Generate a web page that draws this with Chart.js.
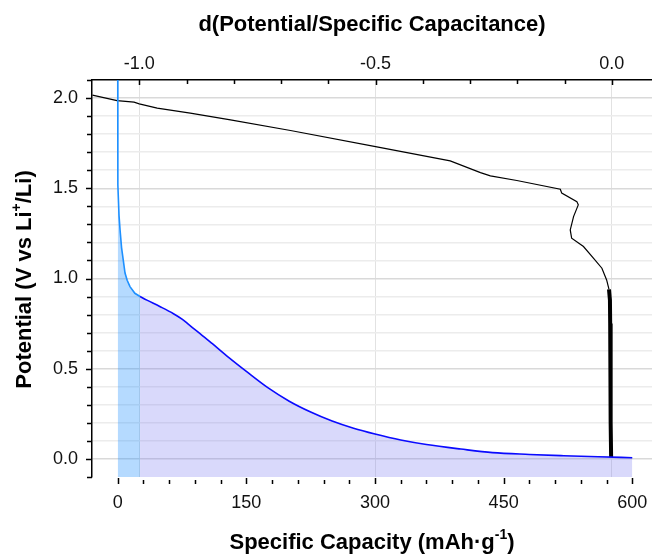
<!DOCTYPE html>
<html>
<head>
<meta charset="utf-8">
<script src="https://cdn.jsdelivr.net/npm/chart.js@4.4.1/dist/chart.umd.min.js"></script>
<style>
  html, body { margin: 0; padding: 0; background: #fff; overflow: hidden; }
  #chart { display: block; }
</style>
</head>
<body>
<canvas id="chart" width="652" height="554"></canvas>
<script>
// Discharge curve, first part (light blue), capacity in mAh/g vs potential
const lightCapacity = [0, 0, 0.3, 0.7, 1.5, 2.7, 4.5, 6.5, 8.5, 11, 14.3, 20, 26];
const lightPotential = [2.3, 1.6, 1.52, 1.45, 1.35, 1.27, 1.17, 1.10, 1.03, 0.99, 0.955, 0.918, 0.90];

// Discharge curve, second part (dark blue)
const darkCapacity = [26, 34, 49, 65, 75, 84, 96, 110, 130, 150, 175, 200, 225, 250, 275, 300, 330, 360, 400, 437, 480, 520, 560, 600];
const darkPotential = [0.90, 0.88, 0.845, 0.805, 0.775, 0.74, 0.695, 0.64, 0.56, 0.485, 0.395, 0.32, 0.26, 0.21, 0.17, 0.138, 0.105, 0.08, 0.055, 0.035, 0.025, 0.018, 0.012, 0.007];

// Derivative curve (top axis) vs potential
const derivValue = [-1.099, -1.047, -1.011, -1.0, -0.962, -0.892, -0.807, -0.68, -0.5, -0.342, -0.278, -0.257, -0.201, -0.109, -0.106, -0.074, -0.071, -0.081, -0.088, -0.085, -0.060, -0.039, -0.021, -0.011, -0.006];
const derivPotential = [2.016, 1.986, 1.977, 1.968, 1.944, 1.916, 1.879, 1.82, 1.731, 1.652, 1.587, 1.569, 1.543, 1.495, 1.473, 1.426, 1.408, 1.343, 1.269, 1.223, 1.177, 1.113, 1.057, 0.992, 0.94];

// Dense (noisy) tail of the derivative curve
const tailValue = [-0.006, -0.004, -0.0035, -0.003, -0.0025, -0.002, -0.0015];
const tailPotential = [0.94, 0.88, 0.75, 0.60, 0.40, 0.20, 0.01];

// Ticks
const capacityTicks = [0, 30, 60, 90, 120, 150, 180, 210, 240, 270, 300, 330, 360, 390, 420, 450, 480, 510, 540, 570, 600];
const capacityLabels = [0, 150, 300, 450, 600];
const derivTicks = [-1.0, -0.9, -0.8, -0.7, -0.6, -0.5, -0.4, -0.3, -0.2, -0.1, 0.0];
const derivLabels = [-1.0, -0.5, 0.0];
const potentialTicks = [-0.1, 0.0, 0.1, 0.2, 0.3, 0.4, 0.5, 0.6, 0.7, 0.8, 0.9, 1.0, 1.1, 1.2, 1.3, 1.4, 1.5, 1.6, 1.7, 1.8, 1.9, 2.0, 2.1];
const potentialLabels = [0.0, 0.5, 1.0, 1.5, 2.0];

const FONT = '"Liberation Sans", Arial, sans-serif';

function pairs(xs, ys) {
    return xs.map((x, i) => ({x: x, y: ys[i]}));
}

function isIn(list, v) {
    return list.some(l => Math.abs(l - v) < 1e-9);
}

function setTicks(values) {
    return function(scale) {
        scale.ticks = values.map(v => ({value: v}));
    };
}

// fixed axis box sizes, no label overflow padding
function fixHeight(h) {
    return function(scale) {
        scale.height = h;
        scale.paddingLeft = 0;
        scale.paddingRight = 0;
    };
}

// tick marks: left outward, top inward, bottom below the plot
const tickMarks = {
    id: 'tickMarks',
    afterDraw(chart) {
        const {ctx, chartArea} = chart;
        const s = chart.scales;
        ctx.save();
        ctx.strokeStyle = '#000';
        ctx.lineWidth = 1.5;
        ctx.beginPath();
        s.y.ticks.forEach(t => {
            const p = Math.round(s.y.getPixelForValue(t.value)) + 0.5;
            const len = isIn(potentialLabels, t.value) ? 6 : 5;
            ctx.moveTo(chartArea.left - len, p);
            ctx.lineTo(chartArea.left, p);
        });
        s.x2.ticks.forEach(t => {
            const p = Math.round(s.x2.getPixelForValue(t.value)) + 0.5;
            const len = isIn(derivLabels, t.value) ? 5 : 4;
            ctx.moveTo(p, chartArea.top);
            ctx.lineTo(p, chartArea.top + len);
        });
        s.x.ticks.forEach(t => {
            const p = Math.round(s.x.getPixelForValue(t.value)) + 0.5;
            const major = isIn(capacityLabels, t.value);
            ctx.moveTo(p, chartArea.bottom + (major ? 1 : 3));
            ctx.lineTo(p, chartArea.bottom + 7);
        });
        ctx.stroke();
        ctx.restore();
    },
};

// axis titles with superscripts
function drawRich(ctx, parts, cx, cy) {
    const big = 'bold 22px ' + FONT;
    const small = 'bold 14px ' + FONT;
    let w = 0;
    parts.forEach(p => {
        ctx.font = p.sup ? small : big;
        w += ctx.measureText(p.t).width;
    });
    let x = cx - w / 2;
    ctx.textBaseline = 'middle';
    ctx.textAlign = 'left';
    parts.forEach(p => {
        ctx.font = p.sup ? small : big;
        ctx.fillText(p.t, x, p.sup ? cy - 8 : cy);
        x += ctx.measureText(p.t).width;
    });
}

const axisTitles = {
    id: 'axisTitles',
    afterDraw(chart) {
        const {ctx, chartArea} = chart;
        const cx = (chartArea.left + chartArea.right) / 2;
        ctx.save();
        ctx.fillStyle = '#000';
        drawRich(ctx, [{t: 'd(Potential/Specific Capacitance)'}], cx, 25);
        drawRich(ctx, [{t: 'Specific Capacity (mAh\u00b7g'}, {t: '-1', sup: true}, {t: ')'}], cx, 543);
        ctx.translate(25, (chartArea.top + chartArea.bottom) / 2 + 1);
        ctx.rotate(-Math.PI / 2);
        drawRich(ctx, [{t: 'Potential (V vs Li'}, {t: '+', sup: true}, {t: '/Li)'}], 0, 0);
        ctx.restore();
    },
};

new Chart(document.getElementById('chart'), {
    type: 'line',
    data: {
        datasets: [
            {
                data: pairs(darkCapacity, darkPotential),
                xAxisID: 'x',
                yAxisID: 'y',
                borderColor: '#0a0aff',
                borderWidth: 1.6,
                backgroundColor: 'rgba(120, 120, 240, 0.28)',
                fill: 'start',
                pointRadius: 0,
                cubicInterpolationMode: 'monotone',
            },
            {
                data: pairs(lightCapacity, lightPotential),
                xAxisID: 'x',
                yAxisID: 'y',
                borderColor: '#1e90ff',
                borderWidth: 1.6,
                backgroundColor: 'rgba(30, 144, 255, 0.33)',
                fill: 'start',
                pointRadius: 0,
                tension: 0,
            },
            {
                data: pairs(derivValue, derivPotential),
                xAxisID: 'x2',
                yAxisID: 'y',
                borderColor: '#000',
                borderWidth: 1.2,
                fill: false,
                pointRadius: 0,
                tension: 0,
            },
            {
                data: pairs(tailValue, tailPotential),
                xAxisID: 'x2',
                yAxisID: 'y',
                borderColor: '#000',
                borderWidth: 4,
                fill: false,
                pointRadius: 0,
                tension: 0,
            },
        ],
    },
    options: {
        responsive: false,
        animation: false,
        events: [],
        layout: {padding: 0},
        scales: {
            x: {
                type: 'linear',
                position: 'bottom',
                min: -30,
                max: 623,
                afterBuildTicks: setTicks(capacityTicks),
                afterFit: fixHeight(77),
                grid: {display: false, drawTicks: false},
                border: {display: false},
                ticks: {
                    autoSkip: false,
                    maxRotation: 0,
                    padding: 15,
                    color: '#111',
                    font: {family: FONT, size: 18},
                    callback: v => isIn(capacityLabels, v) ? String(v) : '',
                },
            },
            x2: {
                type: 'linear',
                position: 'top',
                min: -1.1,
                max: 0.085,
                afterBuildTicks: setTicks(derivTicks),
                afterFit: fixHeight(80),
                grid: {
                    drawTicks: false,
                    lineWidth: 1,
                    color: c => isIn(derivLabels, c.tick.value) ? '#e2e2e2' : 'rgba(0,0,0,0)',
                },
                border: {display: true, color: '#000', width: 1.5},
                ticks: {
                    autoSkip: false,
                    maxRotation: 0,
                    padding: 5,
                    color: '#111',
                    font: {family: FONT, size: 18},
                    callback: v => isIn(derivLabels, v) ? v.toFixed(1) : '',
                },
            },
            y: {
                type: 'linear',
                position: 'left',
                min: -0.1,
                max: 2.1,
                afterBuildTicks: setTicks(potentialTicks),
                afterFit: s => { s.width = 92; s.paddingTop = 0; s.paddingBottom = 0; },
                grid: {
                    drawTicks: false,
                    lineWidth: 1.5,
                    color: c => {
                        const v = c.tick.value;
                        if (v < -0.05 || v > 2.05) return 'rgba(0,0,0,0)';
                        return isIn(potentialLabels, v) ? '#d9d9d9' : '#ececec';
                    },
                },
                border: {display: true, color: '#000', width: 1.5},
                ticks: {
                    autoSkip: false,
                    padding: 14,
                    color: '#111',
                    font: {family: FONT, size: 18},
                    callback: v => isIn(potentialLabels, v) ? v.toFixed(1) : '',
                },
            },
        },
        plugins: {
            legend: {display: false},
            tooltip: {enabled: false},
        },
    },
    plugins: [tickMarks, axisTitles],
});
</script>
</body>
</html>
